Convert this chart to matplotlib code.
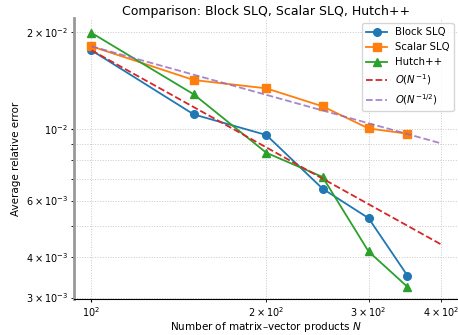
"""Compare average relative error of Block SLQ, Scalar SLQ and Hutch++ against N."""
import matplotlib
matplotlib.use("Agg")
import matplotlib.pyplot as plt
import numpy as np

# matrix-vector products
N = [100, 150, 200, 250, 300, 350]
block_slq = [0.01754, 0.01110, 0.00958, 0.00653, 0.00529, 0.00351]
scalar_slq = [0.01805, 0.01419, 0.01337, 0.01176, 0.01004, 0.00967]
hutchpp = [0.01987, 0.01281, 0.00844, 0.00710, 0.00417, 0.00324]
# reference slopes drawn over this range, anchored at the first point
N_ref = [100, 400]

n_ref = np.array(N_ref, dtype=float)
ref_1 = block_slq[0] * (n_ref / N_ref[0]) ** -1.0
ref_half = scalar_slq[0] * (n_ref / N_ref[0]) ** -0.5

fig = plt.figure(figsize=(4.58, 3.35), dpi=100)
ax = fig.add_axes([0.1616, 0.1075, 0.8397, 0.8388])

ax.loglog(N, block_slq, marker="o", color="tab:blue", lw=1.3, ms=5.5, label="Block SLQ")
ax.loglog(N, scalar_slq, marker="s", color="tab:orange", lw=1.3, ms=5.5, label="Scalar SLQ")
ax.loglog(N, hutchpp, marker="^", color="tab:green", lw=1.3, ms=5.5, label="Hutch++")
ax.loglog(N_ref, ref_1, "--", color="tab:red", lw=1.3, label=r"$O(N^{-1})$")
ax.loglog(N_ref, ref_half, "--", color="tab:purple", alpha=0.8, lw=1.3, label=r"$O(N^{-1/2})$")

ax.set_ylim(2.97e-3, 2.21e-2)
ax.grid(True, which="both", ls=":", lw=0.7, color="#c8c8c8")
ax.tick_params(which="both", labelsize=7, length=2.5, pad=2)
ax.spines["top"].set_visible(False)
ax.spines["left"].set_color("#999999")
ax.spines["left"].set_linewidth(2)

ax.set_xlabel("Number of matrix\u2013vector products $N$", fontsize=7.5, labelpad=1)
ax.set_ylabel("Average relative error", fontsize=7.5, labelpad=3)
ax.set_title("Comparison: Block SLQ, Scalar SLQ, Hutch++", fontsize=9, pad=1.5)
ax.legend(loc="upper right", fontsize=7.3)

fig.savefig("out.png", dpi=100)
